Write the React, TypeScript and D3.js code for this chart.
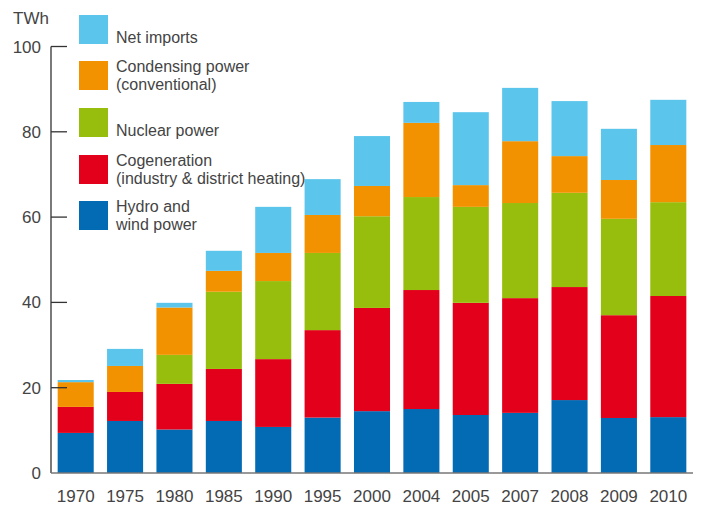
import React from "react";
import * as d3 from "d3";

const years = ["1970","1975","1980","1985","1990","1995","2000","2004","2005","2007","2008","2009","2010"];
const hydro = [9.4,12.2,10.2,12.2,10.8,13.0,14.5,15.0,13.6,14.1,17.1,12.9,13.1];
const cogeneration = [6.1,6.8,10.7,12.2,15.9,20.5,24.2,27.9,26.3,26.9,26.5,24.1,28.4];
const nuclear = [0,0,6.8,18.1,18.3,18.1,21.5,21.8,22.5,22.3,22.1,22.6,22.0];
const condensing = [5.8,6.1,11.1,4.9,6.6,8.9,7.1,17.4,5.1,14.5,8.6,9.1,13.4];
const imports = [0.5,4.0,1.1,4.7,10.8,8.4,11.7,4.9,17.1,12.5,12.9,12.0,10.6];
const yTicks = [0,20,40,60,80,100];

const seriesKeys = ["hydro","cogeneration","nuclear","condensing","imports"];
const colors: Record<string,string> = {
  hydro: "#036AB4",
  cogeneration: "#E2001A",
  nuclear: "#97BE0D",
  condensing: "#F39200",
  imports: "#5BC5EC",
};
const legend = [
  { key: "imports", lines: ["Net imports"] },
  { key: "condensing", lines: ["Condensing power", "(conventional)"] },
  { key: "nuclear", lines: ["Nuclear power"] },
  { key: "cogeneration", lines: ["Cogeneration", "(industry & district heating)"] },
  { key: "hydro", lines: ["Hydro and", "wind power"] },
];

export default function App() {
  const W = 702, H = 506;
  const font = "'Liberation Sans', Arial, Helvetica, sans-serif";
  const textColor = "#444";
  const rows = years.map((y, i) => ({
    year: y,
    hydro: hydro[i],
    cogeneration: cogeneration[i],
    nuclear: nuclear[i],
    condensing: condensing[i],
    imports: imports[i],
  }));
  const stacked = d3.stack<any>().keys(seriesKeys)(rows);
  const x = d3.scaleBand<string>().domain(years).range([51, 693]).paddingInner(0.27).paddingOuter(0.135);
  const y = d3.scaleLinear().domain([0, 100]).range([473, 46.5]);

  const swatchTops = [15, 61, 108, 155, 201];
  const sw = 29;

  return (
    <svg width={W} height={H} style={{ position: "absolute", left: 0, top: 0, background: "#fff" }} fontFamily={font}>
      {stacked.map((s) => (
        <g key={s.key} fill={colors[s.key]}>
          {s.map((d, i) => {
            const h = y(d[0]) - y(d[1]);
            if (h <= 0) return null;
            return <rect key={i} x={x(years[i])} width={x.bandwidth()} y={y(d[1])} height={h} />;
          })}
        </g>
      ))}
      <line x1={51} x2={51} y1={y(100)} y2={y(0)} stroke="#333" strokeWidth={1.3} />
      {yTicks.map((t) => (
        <g key={t}>
          {t > 0 && <line x1={51} x2={67} y1={y(t)} y2={y(t)} stroke="#333" strokeWidth={1.3} />}
          <text x={41} y={y(t) + 6} textAnchor="end" fontSize={17} fill={textColor}>{t}</text>
        </g>
      ))}
      <line x1={51} x2={693} y1={y(0)} y2={y(0)} stroke="#777" strokeWidth={1.6} />
      <text x={13} y={24} fontSize={17} fill={textColor}>TWh</text>
      {years.map((yr) => (
        <text key={yr} x={(x(yr) as number) + x.bandwidth() / 2} y={502} textAnchor="middle" fontSize={17} fill={textColor}>{yr}</text>
      ))}
      {legend.map((l, i) => {
        const top = swatchTops[i];
        return (
          <g key={l.key}>
            <rect x={79} y={top} width={sw} height={sw} fill={colors[l.key]} />
            {l.lines.length === 1 ? (
              <text x={116} y={top + sw - 1} fontSize={16} fill={textColor}>{l.lines[0]}</text>
            ) : (
              <>
                <text x={116} y={top + 11} fontSize={16} fill={textColor}>{l.lines[0]}</text>
                <text x={116} y={top + 28.5} fontSize={16} fill={textColor}>{l.lines[1]}</text>
              </>
            )}
          </g>
        );
      })}
    </svg>
  );
}
